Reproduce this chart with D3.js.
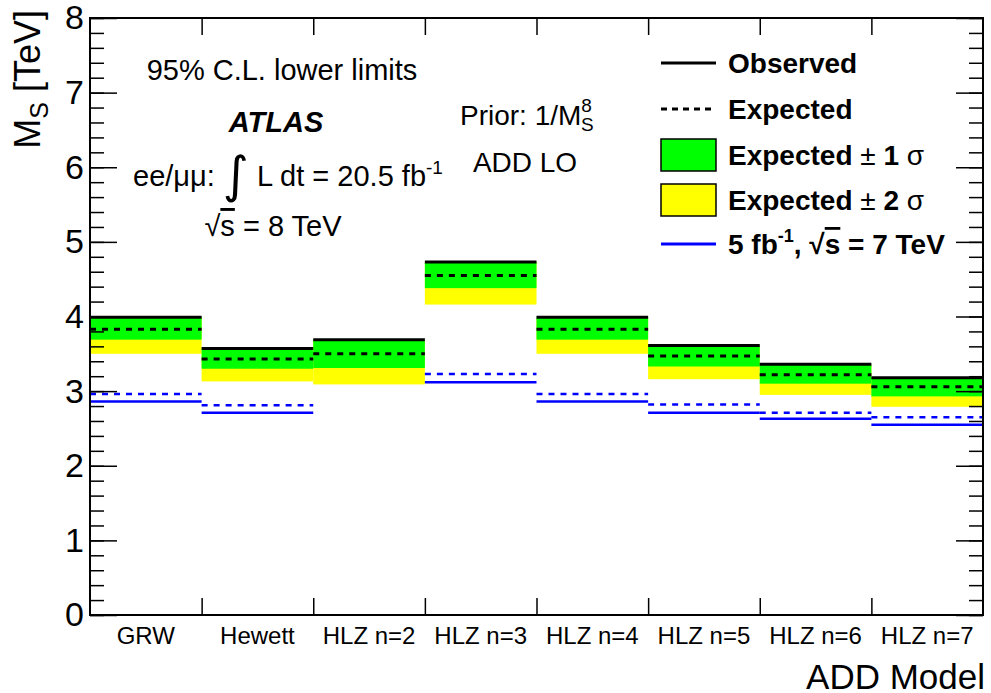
<!DOCTYPE html>
<html>
<head>
<meta charset="utf-8">
<script src="https://cdn.jsdelivr.net/npm/d3@7"></script>
<style>
  body { margin: 0; background: #fff; }
  svg { font-family: "Liberation Sans", Arial, Helvetica, sans-serif; }
</style>
</head>
<body>
<div id="chart"></div>
<script>
// 모델별 95% CL 하한값 (TeV)
const models = ["GRW", "Hewett", "HLZ n=2", "HLZ n=3", "HLZ n=4", "HLZ n=5", "HLZ n=6", "HLZ n=7"];
const observed    = [3.99, 3.57, 3.69, 4.73, 3.99, 3.61, 3.36, 3.18];
const expected    = [3.83, 3.43, 3.50, 4.55, 3.83, 3.47, 3.22, 3.06];
const minus1Sigma = [3.69, 3.30, 3.31, 4.38, 3.69, 3.33, 3.10, 2.93];
const minus2Sigma = [3.50, 3.13, 3.09, 4.16, 3.50, 3.16, 2.95, 2.79];
// 7 TeV, 5 fb-1 결과 (HLZ n=2 없음)
const expected7TeV = [2.96, 2.81, null, 3.23, 2.96, 2.82, 2.71, 2.65];
const observed7TeV = [2.86, 2.71, null, 3.12, 2.86, 2.71, 2.63, 2.55];
const yDomain = [0, 8];

const width = 991, height = 693;
const plotLeft = 90, plotRight = 983, plotTop = 18, plotBottom = 615;

const svg = d3.select("#chart").append("svg")
  .attr("width", width)
  .attr("height", height);

const x = d3.scaleBand().domain(models).range([plotLeft, plotRight]).padding(0);
const xEdge = d3.scaleLinear().domain([0, models.length]).range([plotLeft, plotRight]);
const y = d3.scaleLinear().domain(yDomain).range([plotBottom, plotTop]);

const rows = models.map((m, i) => ({
  m, obs: observed[i], exp: expected[i], lo1: minus1Sigma[i], lo2: minus2Sigma[i],
  exp7: expected7TeV[i], obs7: observed7TeV[i]
}));

// 밴드 (노랑 → 초록)
svg.append("g").selectAll("rect")
  .data(rows)
  .join("rect")
  .attr("x", (d) => x(d.m))
  .attr("width", x.bandwidth())
  .attr("y", (d) => y(d.obs))
  .attr("height", (d) => y(d.lo2) - y(d.obs))
  .attr("fill", "#ffff00");

svg.append("g").selectAll("rect")
  .data(rows)
  .join("rect")
  .attr("x", (d) => x(d.m))
  .attr("width", x.bandwidth())
  .attr("y", (d) => y(d.obs))
  .attr("height", (d) => y(d.lo1) - y(d.obs))
  .attr("fill", "#00ff00");

// 수평선 그리기 헬퍼
function hlines(key, color, widthPx, dash) {
  svg.append("g").selectAll("line")
    .data(rows.filter((d) => d[key] != null))
    .join("line")
    .attr("x1", (d) => x(d.m))
    .attr("x2", (d) => x(d.m) + x.bandwidth())
    .attr("y1", (d) => y(d[key]))
    .attr("y2", (d) => y(d[key]))
    .attr("stroke", color)
    .attr("stroke-width", widthPx)
    .attr("stroke-dasharray", dash);
}

hlines("exp7", "#0000ff", 2.5, "6,6");
hlines("obs7", "#0000ff", 2.5, null);
hlines("exp", "#000", 3, "6,6");
hlines("obs", "#000", 3, null);

// 축
const tickStyle = (g) => {
  g.select(".domain").remove();
  g.selectAll("line").attr("stroke", "#000").attr("stroke-width", 1.5);
};

svg.append("g").attr("transform", `translate(${plotLeft},0)`)
  .call(d3.axisLeft(y).tickValues(d3.range(0, 8.01, 0.2)).tickSize(-14).tickFormat(""))
  .call(tickStyle);
svg.append("g").attr("transform", `translate(${plotLeft},0)`)
  .call(d3.axisLeft(y).ticks(8).tickSize(-27).tickPadding(6).tickFormat(d3.format("d")))
  .call(tickStyle)
  .selectAll("text").attr("font-size", 34).attr("fill", "#000")
  .attr("font-family", "Liberation Sans, Arial, sans-serif");

svg.append("g").attr("transform", `translate(${plotRight},0)`)
  .call(d3.axisRight(y).tickValues(d3.range(0, 8.01, 0.2)).tickSize(-14).tickFormat(""))
  .call(tickStyle);
svg.append("g").attr("transform", `translate(${plotRight},0)`)
  .call(d3.axisRight(y).ticks(8).tickSize(-27).tickFormat(""))
  .call(tickStyle);

svg.append("g").attr("transform", `translate(0,${plotTop})`)
  .call(d3.axisTop(xEdge).tickValues(d3.range(1, models.length)).tickSize(-17).tickFormat(""))
  .call(tickStyle);
svg.append("g").attr("transform", `translate(0,${plotBottom})`)
  .call(d3.axisBottom(xEdge).tickValues(d3.range(1, models.length)).tickSize(-17).tickFormat(""))
  .call(tickStyle);

svg.append("g").attr("transform", `translate(0,${plotBottom})`)
  .call(d3.axisBottom(x).tickSize(0).tickPadding(12))
  .call((g) => g.select(".domain").remove())
  .selectAll("text").attr("font-size", 24).attr("fill", "#000")
  .attr("font-family", "Liberation Sans, Arial, sans-serif");

// 프레임
svg.append("rect")
  .attr("x", plotLeft).attr("y", plotTop)
  .attr("width", plotRight - plotLeft).attr("height", plotBottom - plotTop)
  .attr("fill", "none").attr("stroke", "#000").attr("stroke-width", 2);

// 축 제목
const yt = svg.append("text")
  .attr("transform", `translate(40,${plotTop - 8}) rotate(-90)`)
  .attr("text-anchor", "end")
  .attr("font-size", 36);
yt.append("tspan").text("M");
yt.append("tspan").text("S").attr("font-size", 25).attr("dy", 8);
yt.append("tspan").text(" [TeV]").attr("dy", -8);

svg.append("text")
  .attr("x", plotRight + 2).attr("y", 689)
  .attr("text-anchor", "end")
  .attr("font-size", 35)
  .text("ADD Model");

// 주석 텍스트
svg.append("text").attr("x", 282).attr("y", 80).attr("text-anchor", "middle")
  .attr("font-size", 29).text("95% C.L. lower limits");
svg.append("text").attr("x", 276).attr("y", 132).attr("text-anchor", "middle")
  .attr("font-size", 29).attr("font-weight", "bold").attr("font-style", "italic").text("ATLAS");

const lumi = svg.append("text").attr("x", 133).attr("y", 186).attr("font-size", 29);
lumi.append("tspan").text("ee/μμ: ");
lumi.append("tspan").text("∫").attr("font-size", 50).attr("dy", 6).attr("font-family", "DejaVu Sans");
lumi.append("tspan").text(" L dt = 20.5 fb").attr("dy", -6);
lumi.append("tspan").text("-1").attr("font-size", 19).attr("dy", -12);

const sq = svg.append("text").attr("x", 273).attr("y", 236).attr("text-anchor", "middle").attr("font-size", 29);
sq.append("tspan").text("√");
sq.append("tspan").text("s").attr("text-decoration", "overline");
sq.append("tspan").text(" = 8 TeV");

const prior = svg.append("text").attr("x", 460).attr("y", 125).attr("font-size", 28);
prior.append("tspan").text("Prior: 1/M");
prior.append("tspan").text("8").attr("font-size", 19).attr("dy", -13);
prior.append("tspan").text("S").attr("font-size", 19).attr("dx", -11).attr("dy", 19);

svg.append("text").attr("x", 525).attr("y", 172).attr("text-anchor", "middle")
  .attr("font-size", 28).text("ADD LO");

// 범례
const legendItems = [
  { label: "Observed", kind: "line", color: "#000", dash: null },
  { label: "Expected", kind: "line", color: "#000", dash: "6,5" },
  { label: "Expected ± 1 σ", kind: "box", color: "#00ff00" },
  { label: "Expected ± 2 σ", kind: "box", color: "#ffff00" },
  { label: "7tev", kind: "line", color: "#0000ff", dash: null },
];
const legendY = [63, 109, 155, 200, 244];

const lg = svg.append("g").selectAll("g")
  .data(legendItems)
  .join("g")
  .attr("transform", (d, i) => `translate(661,${legendY[i]})`);

lg.filter((d) => d.kind === "line").append("line")
  .attr("x1", 0).attr("x2", 55)
  .attr("stroke", (d) => d.color)
  .attr("stroke-width", 3)
  .attr("stroke-dasharray", (d) => d.dash);

lg.filter((d) => d.kind === "box").append("rect")
  .attr("x", 0).attr("y", -16).attr("width", 55).attr("height", 32)
  .attr("fill", (d) => d.color)
  .attr("stroke", "#000").attr("stroke-width", 1.5);

lg.each(function (d) {
  const t = d3.select(this).append("text")
    .attr("x", 67).attr("y", 10)
    .attr("font-size", 28).attr("font-weight", "bold");
  if (d.label === "7tev") {
    t.append("tspan").text("5 fb");
    t.append("tspan").text("-1").attr("font-size", 18).attr("dy", -12);
    t.append("tspan").text(",  √").attr("dy", 12);
    t.append("tspan").text("s").attr("text-decoration", "overline");
    t.append("tspan").text(" = 7 TeV");
  } else if (d.kind === "box") {
    const parts = d.label.split("±");
    t.append("tspan").text(parts[0]);
    t.append("tspan").text("±").attr("font-weight", "normal");
    const rest = parts[1].trim().split(" ");
    t.append("tspan").text(" " + rest[0] + " ");
    t.append("tspan").text(rest[1]).attr("font-weight", "normal");
  } else {
    t.text(d.label);
  }
});
</script>
</body>
</html>
